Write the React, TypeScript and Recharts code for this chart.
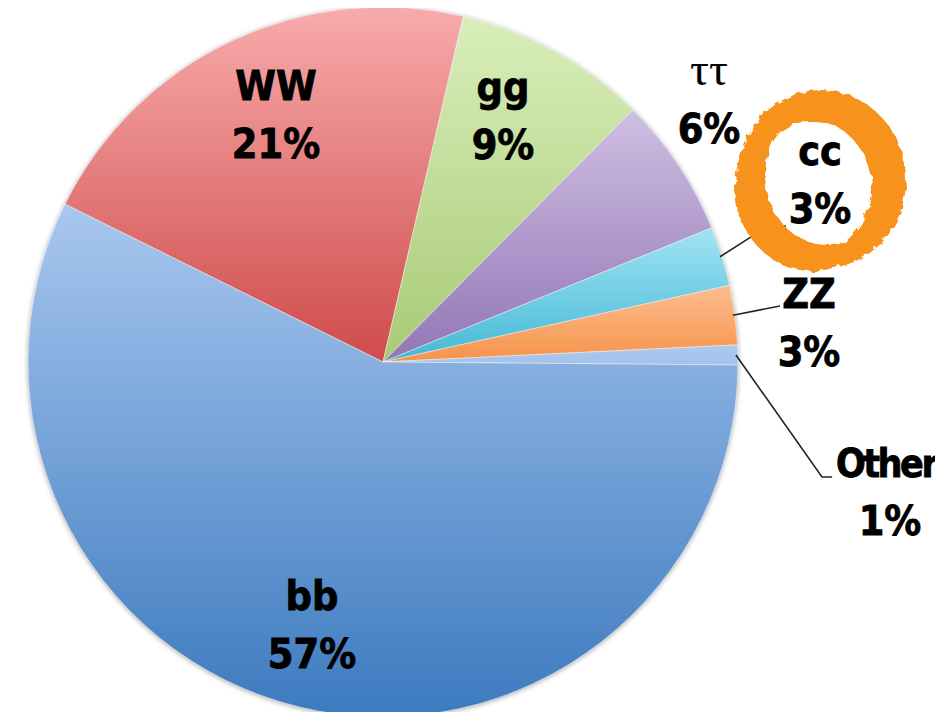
import { PieChart, Pie, Cell } from "recharts";

// Higgs decay branching fractions (clockwise from the WW/bb edge)
const categories = ["WW", "gg", "ττ", "cc", "ZZ", "Other", "bb"];
const shares = [21.3, 8.8, 6.4, 2.7, 2.7, 0.9, 57.2];

const data = categories.map((name, i) => ({ name, value: shares[i] }));

// top / bottom stop of each slice's vertical gradient
const gradients: Record<string, [string, string]> = {
  WW: ["#f8abab", "#cf4b4b"],
  gg: ["#d9eebb", "#a8ca76"],
  "ττ": ["#cfbfe2", "#9276b6"],
  cc: ["#a3e3f4", "#41b9d5"],
  ZZ: ["#fdbd90", "#f6934a"],
  Other: ["#adc9ef", "#a3c1ea"],
  bb: ["#a9c7ef", "#3c7abf"],
};

// label placement relative to the pie centre (dx, baseline of first line)
const labelSpots: Record<string, { dx: number; dy: number; line?: number[][]; tight?: boolean }> = {
  WW: { dx: -107, dy: -262 },
  gg: { dx: 120, dy: -261 },
  "ττ": { dx: 326, dy: -277 },
  cc: { dx: 437, dy: -197, line: [[382, -134], [403, -136]] },
  ZZ: { dx: 426, dy: -54, line: [[397, -56]] },
  Other: { dx: 507, dy: 115, line: [[439, 115], [449, 115]], tight: true },
  bb: { dx: -71, dy: 248 },
};

const boldFont = "'DejaVu Sans Condensed', 'DejaVu Sans', sans-serif";

const renderLabel = (props: any) => {
  const { cx, cy, midAngle, outerRadius, name, percent } = props;
  const spot = labelSpots[name];
  if (!spot) return null;
  const rad = Math.PI / 180;
  const sx = cx + (outerRadius - 2) * Math.cos(-midAngle * rad);
  const sy = cy + (outerRadius - 2) * Math.sin(-midAngle * rad);
  const x = cx + spot.dx;
  const y = cy + spot.dy;
  const pct = Math.round(percent * 100) + "%";
  const isTau = name === "ττ";
  let path = "";
  if (spot.line) {
    path = `M${sx},${sy}` + spot.line.map((p) => ` L${cx + p[0]},${cy + p[1]}`).join("");
  }
  return (
    <g>
      {path && <path d={path} stroke="#222" strokeWidth={1.6} fill="none" />}
      <text
        x={spot.tight ? x - 54 : x}
        y={y}
        textAnchor={spot.tight ? "start" : "middle"}
        fill="#000"
        stroke={isTau ? "none" : "#000"}
        strokeWidth={0.8}
        fontFamily={isTau ? "'Liberation Serif', 'DejaVu Serif', serif" : boldFont}
        fontWeight={isTau ? "normal" : "bold"}
        fontSize={isTau ? 47 : spot.tight ? 39 : 41}
        letterSpacing={spot.tight ? -2.5 : undefined}
        style={{ fontStretch: isTau ? "normal" : "condensed" }}
      >
        {name}
      </text>
      <text
        x={x}
        y={y + 58}
        textAnchor="middle"
        fill="#000"
        stroke="#000"
        strokeWidth={0.8}
        fontFamily={boldFont}
        fontWeight="bold"
        fontSize={41}
        style={{ fontStretch: "condensed" }}
      >
        {pct}
      </text>
    </g>
  );
};

export default function App() {
  return (
    <div style={{ position: "relative", width: 943, height: 720, margin: -8, background: "#fff" }}>
      <style>{`.recharts-pie { filter: drop-shadow(0px 1px 2.5px rgba(0,0,0,0.35)); }`}</style>
      <PieChart width={943} height={720} margin={{ top: 0, right: 0, bottom: 0, left: 0 }}>
        <defs>
          {categories.map((c, i) => (
            <linearGradient key={c} id={`grad-${i}`} x1="0" y1="0" x2="0" y2="1">
              <stop offset="0%" stopColor={gradients[c][0]} />
              <stop offset="100%" stopColor={gradients[c][1]} />
            </linearGradient>
          ))}
        </defs>
        <Pie
          data={data}
          dataKey="value"
          nameKey="name"
          cx={383}
          cy={362}
          innerRadius={0}
          outerRadius={355}
          startAngle={153.6}
          endAngle={-206.4}
          stroke="rgba(255,255,255,0.45)"
          strokeWidth={1}
          labelLine={false}
          label={renderLabel}
          isAnimationActive={false}
        >
          {categories.map((c, i) => (
            <Cell key={c} fill={`url(#grad-${i})`} />
          ))}
        </Pie>
      </PieChart>
      {/* hand-drawn orange highlight around the cc label */}
      <svg
        width={943}
        height={720}
        style={{ position: "absolute", left: 0, top: 0, pointerEvents: "none" }}
      >
        <defs>
          <filter id="rough" x="-20%" y="-20%" width="140%" height="140%">
            <feTurbulence type="fractalNoise" baseFrequency="0.12" numOctaves="2" seed="3" />
            <feDisplacementMap in="SourceGraphic" scale="7" />
          </filter>
        </defs>
        <g filter="url(#rough)" fill="none" stroke="#f7921c">
          <ellipse cx={824} cy={180} rx={72} ry={78} strokeWidth={20} />
          <ellipse cx={812} cy={187} rx={68} ry={75} strokeWidth={18} />
          <ellipse cx={821} cy={179} rx={79} ry={85} strokeWidth={8} />
          <ellipse cx={828} cy={176} rx={66} ry={72} strokeWidth={6} />
        </g>
      </svg>
    </div>
  );
}
